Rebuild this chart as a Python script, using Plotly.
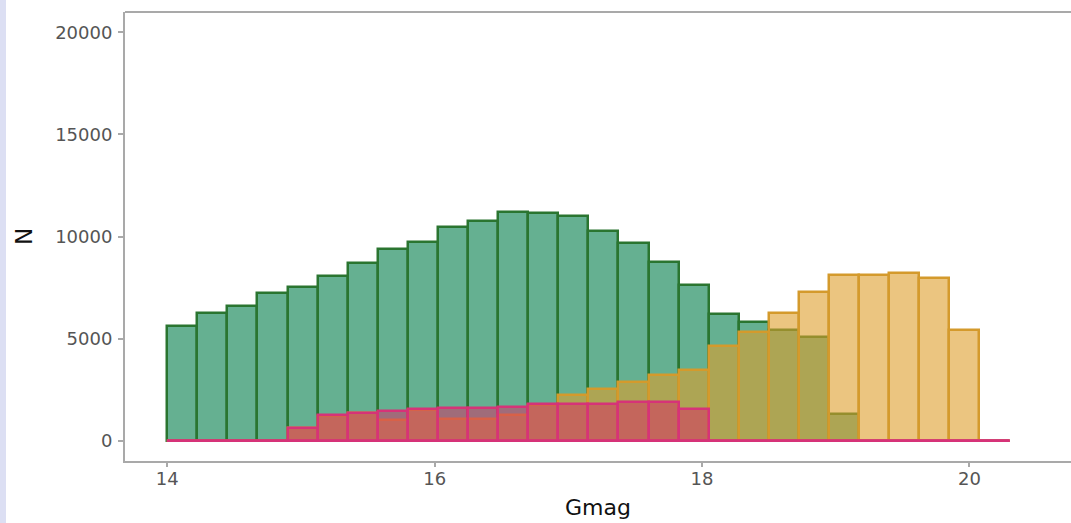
import numpy as np
import plotly.graph_objects as go

# Histogram of Gmag for three samples (counts per bin)
bin_start = 14.0
bin_width = 0.225

green_counts = [5610, 6230, 6590, 7210, 7540, 8060, 8690, 9390, 9730, 10480,
                10780, 11200, 11140, 11000, 10290, 9670, 8760, 7600, 6180, 5820,
                5410, 5080, 1290, 0, 0, 0, 0, 0]
gold_counts = [0, 0, 0, 0, 600, 1200, 1350, 1000, 1500, 1050,
               1050, 1250, 1750, 2220, 2550, 2880, 3200, 3480, 4640, 5300,
               6230, 7270, 8110, 8110, 8190, 7950, 5410, 0]
pink_counts = [0, 0, 0, 0, 640, 1240, 1370, 1450, 1540, 1600,
               1620, 1650, 1790, 1780, 1780, 1900, 1900, 1570, 0, 0,
               0, 0, 0, 0, 0, 0, 0, 0]

x_ticks = [14, 16, 18, 20]
y_ticks = [0, 5000, 10000, 15000, 20000]

n_bins = len(green_counts)
edges = bin_start + bin_width * np.arange(n_bins + 1)
centers = (edges[:-1] + edges[1:]) / 2

series = [
    (green_counts, "rgba(36,142,98,0.7)", "#2a7530"),
    (gold_counts, "rgba(222,158,44,0.6)", "#d49a2c"),
    (pink_counts, "rgba(220,40,100,0.5)", "#d63378"),
]

fig = go.Figure()
for counts, fill, edge in series:
    fig.add_trace(go.Bar(
        x=centers, y=counts, width=bin_width,
        marker=dict(color=fill, line=dict(color=edge, width=2.5)),
        showlegend=False,
    ))

# zero-count bins of the last layer show as a flat line along the baseline
fig.add_trace(go.Scatter(
    x=[edges[0], edges[-1]], y=[0, 0], mode="lines",
    line=dict(color="#d63378", width=2.5), showlegend=False,
))

axis_grey = "#a9a9a9"
tick_font = dict(family="DejaVu Sans", size=18, color="#555555")

fig.update_layout(
    width=1071, height=523,
    margin=dict(l=125, r=0, t=12, b=62),
    paper_bgcolor="white", plot_bgcolor="white",
    barmode="overlay", bargap=0,
    xaxis=dict(
        range=[13.684, 20.76], tickvals=x_ticks, ticktext=[str(v) for v in x_ticks],
        showgrid=False, zeroline=False,
        showline=True, linecolor=axis_grey, linewidth=2,
        ticks="outside", ticklen=4, tickwidth=2, tickcolor=axis_grey,
        tickfont=tick_font, ticklabelstandoff=-4,
        title=dict(text="Gmag", font=dict(family="DejaVu Sans", size=22, color="#111111"), standoff=12),
    ),
    yaxis=dict(
        range=[-1000, 21000], tickvals=y_ticks, ticktext=[str(v) for v in y_ticks],
        showgrid=False, zeroline=False,
        showline=True, linecolor=axis_grey, linewidth=2,
        ticks="outside", ticklen=5, tickwidth=2, tickcolor=axis_grey,
        tickfont=tick_font, ticklabelstandoff=2,
        title=dict(text="N", font=dict(family="DejaVu Sans", size=23, color="#111111"), standoff=16),
    ),
    shapes=[
        # top border of the panel
        dict(type="line", xref="paper", yref="paper", x0=0, x1=1, y0=1, y1=1,
             line=dict(color=axis_grey, width=2)),
        # narrow tinted strip on the left edge of the page
        dict(type="rect", xref="paper", yref="paper",
             x0=-125 / 946, x1=-119 / 946, y0=-62 / 449, y1=(449 + 12) / 449,
             fillcolor="#dcdff3", line=dict(width=0), layer="below"),
    ],
)

fig.write_html("out.html")
